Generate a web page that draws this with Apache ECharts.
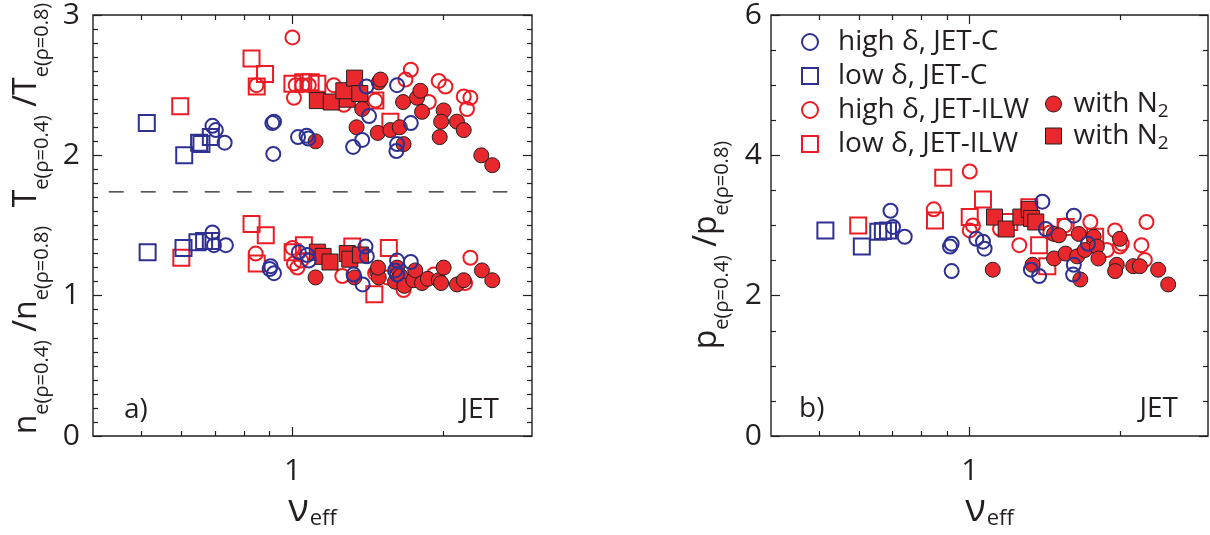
<!DOCTYPE html>
<html>
<head>
<meta charset="utf-8">
<script src="https://cdn.jsdelivr.net/npm/echarts@6/dist/echarts.min.js"></script>
<style>
  html, body { margin: 0; padding: 0; background: #fff; }
  #chart { width: 1210px; height: 535px; }
</style>
</head>
<body>
<div id="chart"></div>
<script>
// ---- values: [nu_eff, ratio] ----
// panel a), electron temperature peaking T_e(0.4)/T_e(0.8)
const tHighC = [[0.692,2.21],[0.703,2.18],[0.732,2.09],[0.911,2.23],[0.918,2.24],[0.915,2.01],[1.025,2.13],[1.066,2.14],[1.075,2.12],[1.32,2.06],[1.376,2.11],[1.403,2.49],[1.42,2.28],[1.615,2.50],[1.615,2.08],[1.61,2.03],[1.72,2.23]];
const tLowC = [[0.512,2.23],[0.608,2.00],[0.651,2.09],[0.658,2.08],[0.687,2.13]];
const tHighILW = [[0.999,2.84],[0.847,2.50],[1.006,2.41],[1.014,2.50],[1.045,2.50],[1.077,2.50],[1.208,2.50],[1.265,2.36],[1.462,2.39],[1.72,2.61],[1.678,2.54],[1.868,2.38],[1.955,2.53],[2.016,2.49],[2.193,2.42],[2.261,2.41],[2.226,2.33]];
const tLowILW = [[0.597,2.35],[0.828,2.69],[0.881,2.58],[0.848,2.49],[0.999,2.51],[1.05,2.52],[1.086,2.52],[1.12,2.51],[1.566,2.24],[1.462,2.39]];
const tN2High = [[1.111,2.10],[1.341,2.20],[1.376,2.33],[1.485,2.52],[1.497,2.54],[1.478,2.16],[1.566,2.18],[1.635,2.20],[1.664,2.08],[1.66,2.38],[1.77,2.41],[1.797,2.46],[1.811,2.31],[2.0,2.32],[1.977,2.24],[1.964,2.13],[2.126,2.24],[2.193,2.18],[2.377,2.00],[2.5,1.93]];
const tN2Low = [[1.12,2.39],[1.194,2.38],[1.285,2.40],[1.265,2.46],[1.329,2.55],[1.361,2.44]];

// panel a), electron density peaking n_e(0.4)/n_e(0.8)
const nHighC = [[0.692,1.45],[0.697,1.36],[0.736,1.36],[0.904,1.21],[0.918,1.16],[0.9,1.19],[1.029,1.31],[1.069,1.29],[1.077,1.25],[1.323,1.15],[1.379,1.08],[1.397,1.35],[1.406,1.28],[1.615,1.25],[1.615,1.15],[1.6,1.18],[1.72,1.24]];
const nLowC = [[0.514,1.31],[0.606,1.34],[0.646,1.38],[0.666,1.39],[0.687,1.39]];
const nHighILW = [[0.844,1.30],[0.999,1.34],[1.006,1.23],[1.022,1.20],[1.04,1.25],[1.256,1.14],[1.46,1.16],[1.544,1.13],[1.664,1.04],[1.911,1.15],[2.207,1.09],[2.261,1.27]];
const nLowILW = [[0.6,1.27],[0.828,1.51],[0.884,1.43],[0.848,1.23],[1.0,1.31],[1.053,1.36],[1.315,1.35],[1.455,1.01],[1.555,1.34]];
const nN2High = [[1.111,1.13],[1.328,1.13],[1.474,1.17],[1.485,1.13],[1.48,1.20],[1.615,1.20],[1.60,1.10],[1.641,1.14],[1.67,1.07],[1.74,1.11],[1.756,1.18],[1.811,1.09],[1.86,1.12],[1.955,1.11],[1.977,1.09],[2.0,1.20],[2.126,1.08],[2.193,1.11],[2.384,1.18],[2.5,1.11]];
const nN2Low = [[1.12,1.31],[1.15,1.28],[1.187,1.24],[1.285,1.30],[1.30,1.26],[1.365,1.29]];

// panel b), electron pressure peaking p_e(0.4)/p_e(0.8)
const pHighC = [[0.694,3.21],[0.702,2.98],[0.741,2.84],[0.913,2.70],[0.92,2.74],[0.92,2.35],[1.031,2.81],[1.063,2.77],[1.071,2.67],[1.326,2.37],[1.377,2.28],[1.398,3.34],[1.42,2.95],[1.616,3.14],[1.616,2.44],[1.611,2.30],[1.725,2.74]];
const pLowC = [[0.514,2.93],[0.608,2.70],[0.656,2.91],[0.67,2.92],[0.686,2.93]];
const pHighILW = [[0.847,3.23],[1.0,3.77],[1.015,3.0],[1.0,2.93],[1.15,2.95],[1.257,2.72],[1.45,2.90],[1.55,3.0],[1.744,3.05],[1.882,2.65],[1.954,2.93],[1.997,2.70],[2.016,2.74],[2.207,2.72],[2.242,2.51],[2.259,3.05]];
const pLowILW = [[0.598,3.0],[0.885,3.68],[0.852,3.07],[1.0,3.12],[1.063,3.37],[1.2,3.05],[1.316,3.26],[1.377,2.72],[1.43,2.42],[1.556,2.98],[1.783,2.84]];
const pN2High = [[1.112,2.37],[1.336,2.44],[1.475,2.88],[1.509,2.86],[1.475,2.53],[1.556,2.60],[1.653,2.88],[1.641,2.56],[1.665,2.23],[1.70,2.65],[1.771,2.84],[1.797,2.70],[1.81,2.53],[1.998,2.81],[1.97,2.44],[1.955,2.35],[2.125,2.42],[2.191,2.42],[2.384,2.37],[2.497,2.16]];
const pN2Low = [[1.121,3.12],[1.183,2.95],[1.266,3.12],[1.316,3.23],[1.33,3.10],[1.356,3.05]];

// dashed separator between the T_e and n_e groups in panel a)
const separator = [[0.43,1.74],[2.68,1.74]];

// axis ranges and tick positions
const nuRange = [0.4, 3];
const nuMinorTicks = [0.5, 0.6, 0.7, 0.8, 0.9, 2];
const nuMajorTicks = [1];
const ratioRangeA = [0, 3];
const ratioRangeB = [0, 6];

// ---- styling ----
const FONT = "'Open Sans', 'Noto Sans', 'DejaVu Sans', sans-serif";
const INK = '#231f20';
const BLUE = '#2e3192';
const RED = '#ec1c24';
const FILL_RED = '#e8282c';

const NAMES = {
  highC: 'high δ, JET-C',
  lowC: 'low δ, JET-C',
  highILW: 'high δ, JET-ILW',
  lowILW: 'low δ, JET-ILW',
  n2High: 'with N2 (high δ)',
  n2Low: 'with N2 (low δ)'
};

const chart = echarts.init(document.getElementById('chart'), null, { renderer: 'canvas' });

const grids = [
  { left: 93, top: 13, width: 439, height: 428 },
  { left: 771, top: 13, width: 437, height: 428 }
];

const log10 = Math.log10;
const lo = log10(nuRange[0]);
const hi = log10(nuRange[1]);

// five x axes per panel: one log axis carrying the data, four tick-only overlays
function xAxesFor(g) {
  const base = {
    gridIndex: g, type: 'value', min: lo, max: hi,
    axisLine: { show: false, onZero: false }, splitLine: { show: false },
    axisLabel: { show: false }
  };
  const tickStyle = { color: INK, width: 1.2 };
  return [
    {
      gridIndex: g, type: 'log', logBase: 10, min: nuRange[0], max: nuRange[1],
      position: 'bottom',
      axisLine: { show: false, onZero: false }, axisTick: { show: false },
      axisLabel: { show: false }, splitLine: { show: false }, minorTick: { show: false }
    },
    Object.assign({}, base, {
      position: 'bottom',
      axisTick: { show: true, inside: true, length: 5, lineStyle: tickStyle, customValues: nuMinorTicks.map(log10) }
    }),
    Object.assign({}, base, {
      position: 'bottom',
      axisTick: { show: true, inside: true, length: 9, lineStyle: tickStyle, customValues: nuMajorTicks.map(log10) },
      axisLabel: {
        show: true, customValues: nuMajorTicks.map(log10), margin: 20,
        fontSize: 30, fontFamily: FONT, color: INK,
        formatter: v => String(Math.round(Math.pow(10, v)))
      },
      name: '{n|ν}{s|eff}',
      nameLocation: 'middle',
      nameGap: 54,
      nameTextStyle: {
        color: INK, fontFamily: FONT,
        rich: {
          n: { fontSize: 38, fontFamily: FONT, color: INK, lineHeight: 40, verticalAlign: 'middle' },
          s: { fontSize: 22, fontFamily: FONT, color: INK, lineHeight: 22, verticalAlign: 'bottom', padding: [0, 0, 0, 1] }
        }
      }
    }),
    Object.assign({}, base, {
      position: 'top',
      axisTick: { show: true, inside: true, length: 5, lineStyle: tickStyle, customValues: nuMinorTicks.map(log10) }
    }),
    Object.assign({}, base, {
      position: 'top',
      axisTick: { show: true, inside: true, length: 9, lineStyle: tickStyle, customValues: nuMajorTicks.map(log10) }
    })
  ];
}

function yAxesFor(g, range, interval, minorSplit, labelMargin) {
  const common = {
    gridIndex: g, type: 'value', min: range[0], max: range[1], interval: interval,
    axisLine: { show: false, onZero: false }, splitLine: { show: false },
    axisTick: { show: true, inside: true, length: 9, lineStyle: { color: INK, width: 1.2 } },
    minorTick: { show: true, splitNumber: minorSplit, length: 5, lineStyle: { color: INK, width: 1.2 } }
  };
  return [
    Object.assign({}, common, {
      position: 'left',
      axisLabel: { show: true, margin: labelMargin, fontSize: 30, fontFamily: FONT, color: INK }
    }),
    Object.assign({}, common, { position: 'right', axisLabel: { show: false } })
  ];
}

function scatter(name, data, kind, color, xi, yi) {
  const filled = kind.startsWith('filled');
  const isSquare = kind.endsWith('Square');
  let size;
  if (filled) size = isSquare ? 16 : 15;
  else size = isSquare ? 16 : 14;
  return {
    type: 'scatter', name: name, data: data,
    xAxisIndex: xi, yAxisIndex: yi,
    symbol: isSquare ? 'rect' : 'circle',
    symbolSize: size,
    itemStyle: filled
      ? { color: FILL_RED, borderColor: INK, borderWidth: 1, opacity: 1 }
      : { color: 'rgba(0,0,0,0)', borderColor: color, borderWidth: 2, opacity: 1 },
    emphasis: { disabled: true },
    silent: true
  };
}

const series = [
  // panel a) (x axis 0, y axis 0)
  scatter(NAMES.highILW, tHighILW, 'openCircle', RED, 0, 0),
  scatter(NAMES.highILW, nHighILW, 'openCircle', RED, 0, 0),
  scatter(NAMES.lowILW, tLowILW, 'openSquare', RED, 0, 0),
  scatter(NAMES.lowILW, nLowILW, 'openSquare', RED, 0, 0),
  scatter(NAMES.n2Low, tN2Low, 'filledSquare', RED, 0, 0),
  scatter(NAMES.n2Low, nN2Low, 'filledSquare', RED, 0, 0),
  scatter(NAMES.n2High, tN2High, 'filledCircle', RED, 0, 0),
  scatter(NAMES.n2High, nN2High, 'filledCircle', RED, 0, 0),
  scatter(NAMES.lowC, tLowC, 'openSquare', BLUE, 0, 0),
  scatter(NAMES.lowC, nLowC, 'openSquare', BLUE, 0, 0),
  scatter(NAMES.highC, tHighC, 'openCircle', BLUE, 0, 0),
  scatter(NAMES.highC, nHighC, 'openCircle', BLUE, 0, 0),
  {
    type: 'line', name: 'separator', data: separator,
    xAxisIndex: 0, yAxisIndex: 0, symbol: 'none', silent: true,
    lineStyle: { color: INK, width: 1.3, type: [15, 17] }
  },
  // panel b) (x axis 5, y axis 2)
  scatter(NAMES.highILW, pHighILW, 'openCircle', RED, 5, 2),
  scatter(NAMES.lowILW, pLowILW, 'openSquare', RED, 5, 2),
  scatter(NAMES.n2Low, pN2Low, 'filledSquare', RED, 5, 2),
  scatter(NAMES.n2High, pN2High, 'filledCircle', RED, 5, 2),
  scatter(NAMES.lowC, pLowC, 'openSquare', BLUE, 5, 2),
  scatter(NAMES.highC, pHighC, 'openCircle', BLUE, 5, 2)
];

function legendRich(padLeft) {
  return {
    n: { fontSize: 28, fontFamily: FONT, color: INK, lineHeight: 34, verticalAlign: 'middle', padding: [0, 0, 0, padLeft] },
    s: { fontSize: 19, fontFamily: FONT, color: INK, lineHeight: 19, verticalAlign: 'bottom' }
  };
}

// rotated axis titles with subscripts
function titleRich() {
  return {
    m: { fontSize: 32, fontFamily: FONT, fill: INK, lineHeight: 50, verticalAlign: 'middle' },
    s: { fontSize: 20, fontFamily: FONT, fill: INK, lineHeight: 21, verticalAlign: 'bottom' }
  };
}
function vTitle(x, y, sym) {
  return {
    type: 'text', x: x, y: y, rotation: Math.PI / 2, silent: true,
    style: {
      text: '{m|' + sym + '}{s|e(ρ=0.4)}{m| /' + sym + '}{s|e(ρ=0.8)}',
      rich: titleRich(), align: 'center', verticalAlign: 'middle', fill: INK
    }
  };
}
function tag(x, y, text, align) {
  return {
    type: 'text', x: x, y: y, silent: true,
    style: { text: text, fontSize: 28, fontFamily: FONT, fill: INK, align: align, verticalAlign: 'middle' }
  };
}

chart.setOption({
  animation: false,
  backgroundColor: '#ffffff',
  grid: grids.map(r => Object.assign({ show: true, borderColor: INK, borderWidth: 1.4, backgroundColor: 'transparent', containLabel: false }, r)),
  xAxis: xAxesFor(0).concat(xAxesFor(1)),
  yAxis: yAxesFor(0, ratioRangeA, 1, 10, 13).concat(yAxesFor(1, ratioRangeB, 2, 4, 9)),
  legend: [
    {
      orient: 'vertical', left: 801, top: 28, padding: 0, itemGap: 6,
      itemWidth: 16, itemHeight: 16, selectedMode: false,
      data: [NAMES.highC, NAMES.lowC, NAMES.highILW, NAMES.lowILW],
      formatter: name => '{n|' + name + '}',
      textStyle: { color: INK, fontFamily: FONT, fontSize: 28, rich: legendRich(15) }
    },
    {
      orient: 'vertical', left: 1045, top: 90, padding: 0, itemGap: 1,
      itemWidth: 16, itemHeight: 16, selectedMode: false,
      data: [
        { name: NAMES.n2High, itemStyle: { borderWidth: 1 } },
        { name: NAMES.n2Low, itemStyle: { borderWidth: 1 } }
      ],
      formatter: () => '{n|with N}{s|2}',
      textStyle: { color: INK, fontFamily: FONT, fontSize: 28, rich: legendRich(7) }
    }
  ],
  graphic: [
    vTitle(27, 105, 'T'),
    vTitle(27, 330, 'n'),
    vTitle(707, 245, 'p'),
    tag(124, 410, 'a)', 'left'),
    tag(499, 410, 'JET', 'right'),
    tag(799, 409, 'b)', 'left'),
    tag(1178, 409, 'JET', 'right')
  ],
  series: series
});
</script>
</body>
</html>
